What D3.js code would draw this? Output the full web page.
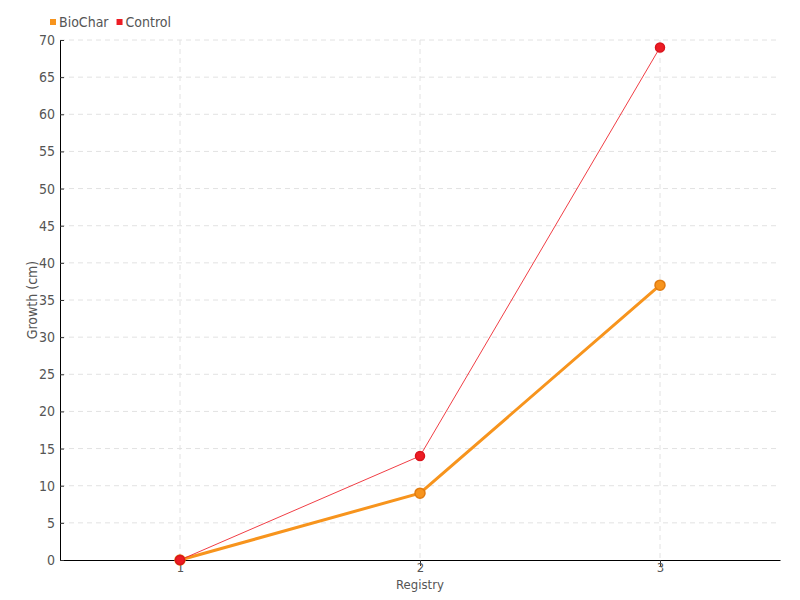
<!DOCTYPE html>
<html>
<head>
<meta charset="utf-8">
<script src="https://cdn.jsdelivr.net/npm/d3@7"></script>
<style>
  body { margin: 0; background: #fff; }
  svg text { font-family: "DejaVu Sans Condensed", "DejaVu Sans", sans-serif; fill: #555; }
</style>
</head>
<body>
<svg id="chart" width="800" height="600"></svg>
<script>
// data
const registry = [1, 2, 3]
const biochar = [0, 9, 37]
const control = [0, 14, 69]
const y_ticks = d3.range(0, 75, 5)

const series = [
  { name: 'BioChar', values: biochar, color: '#f7941d', stroke: '#e07b10', width: 3, r: 5 },
  { name: 'Control', values: control, color: '#ed1c24', stroke: '#d9141c', width: 1, r: 4.5 }
]

const margin = { top: 40, right: 20, bottom: 40, left: 60 }
const width = 800 - margin.left - margin.right
const height = 600 - margin.top - margin.bottom

let svg = d3.select('#chart')
let g = svg.append('g').attr('transform', `translate(${margin.left},${margin.top})`)

let x = d3.scaleLinear().domain([0.5, 3.5]).range([0, width])
let y = d3.scaleLinear().domain([0, 70]).range([height, 0])

// grid
g.append('g')
  .selectAll('line')
  .data(y_ticks.filter(d => d > 0))
  .join('line')
  .attr('x1', 0).attr('x2', width)
  .attr('y1', d => y(d)).attr('y2', d => y(d))
  .style('stroke', '#e2e2e2')
  .style('stroke-dasharray', '5,4')

g.append('g')
  .selectAll('line')
  .data(registry)
  .join('line')
  .attr('x1', d => x(d)).attr('x2', d => x(d))
  .attr('y1', 0).attr('y2', height)
  .style('stroke', '#e2e2e2')
  .style('stroke-dasharray', '5,4')

// axes
let x_axis = g.append('g')
  .attr('transform', `translate(0,${height})`)
  .call(d3.axisBottom(x).tickValues(registry).tickFormat(d3.format('d')).tickSize(6).tickSizeOuter(0))
x_axis.select('.domain').style('stroke', '#000')
x_axis.selectAll('.tick line').style('stroke', '#333')
x_axis.selectAll('text').attr('y', 3).style('font-size', '13px')

let y_axis = g.append('g')
  .call(d3.axisLeft(y).tickValues(y_ticks).tickSize(-4).tickSizeOuter(0).tickPadding(5))
y_axis.select('.domain').style('stroke', '#000')
y_axis.selectAll('.tick line').style('stroke', '#333')
y_axis.selectAll('text').style('font-size', '14px')

// axis titles
g.append('text')
  .attr('x', x(2))
  .attr('y', height + 29)
  .attr('text-anchor', 'middle')
  .style('font-size', '13px')
  .text('Registry')

g.append('text')
  .attr('transform', `translate(-23,${y(35)}) rotate(-90)`)
  .attr('text-anchor', 'middle')
  .style('font-size', '14px')
  .text('Growth (cm)')

// lines and points
let line = d3.line()
  .x((d, i) => x(registry[i]))
  .y(d => y(d))

for (let s of series) {
  g.append('path')
    .datum(s.values)
    .attr('d', line)
    .style('fill', 'none')
    .style('stroke', s.color)
    .style('stroke-width', s.width)
    .style('stroke-opacity', s.name == 'Control' ? 0.85 : 1)
}

for (let s of series) {
  g.append('g')
    .selectAll('circle')
    .data(s.values)
    .join('circle')
    .attr('cx', (d, i) => x(registry[i]))
    .attr('cy', d => y(d))
    .attr('r', s.r)
    .style('fill', s.color)
    .style('stroke', s.stroke)
    .style('stroke-width', 1.5)
}

// legend
let legend = svg.append('g').attr('transform', 'translate(50,22)')
let lx = 0
for (let s of series) {
  let item = legend.append('g').attr('transform', `translate(${lx},0)`)
  item.append('rect')
    .attr('x', 0).attr('y', -3)
    .attr('width', 6).attr('height', 6)
    .style('fill', s.color)
  let t = item.append('text')
    .attr('x', 9).attr('y', 0)
    .attr('dy', '0.35em')
    .style('font-size', '14px')
    .text(s.name)
  lx += 9 + t.node().getComputedTextLength() + 8
}
</script>
</body>
</html>
